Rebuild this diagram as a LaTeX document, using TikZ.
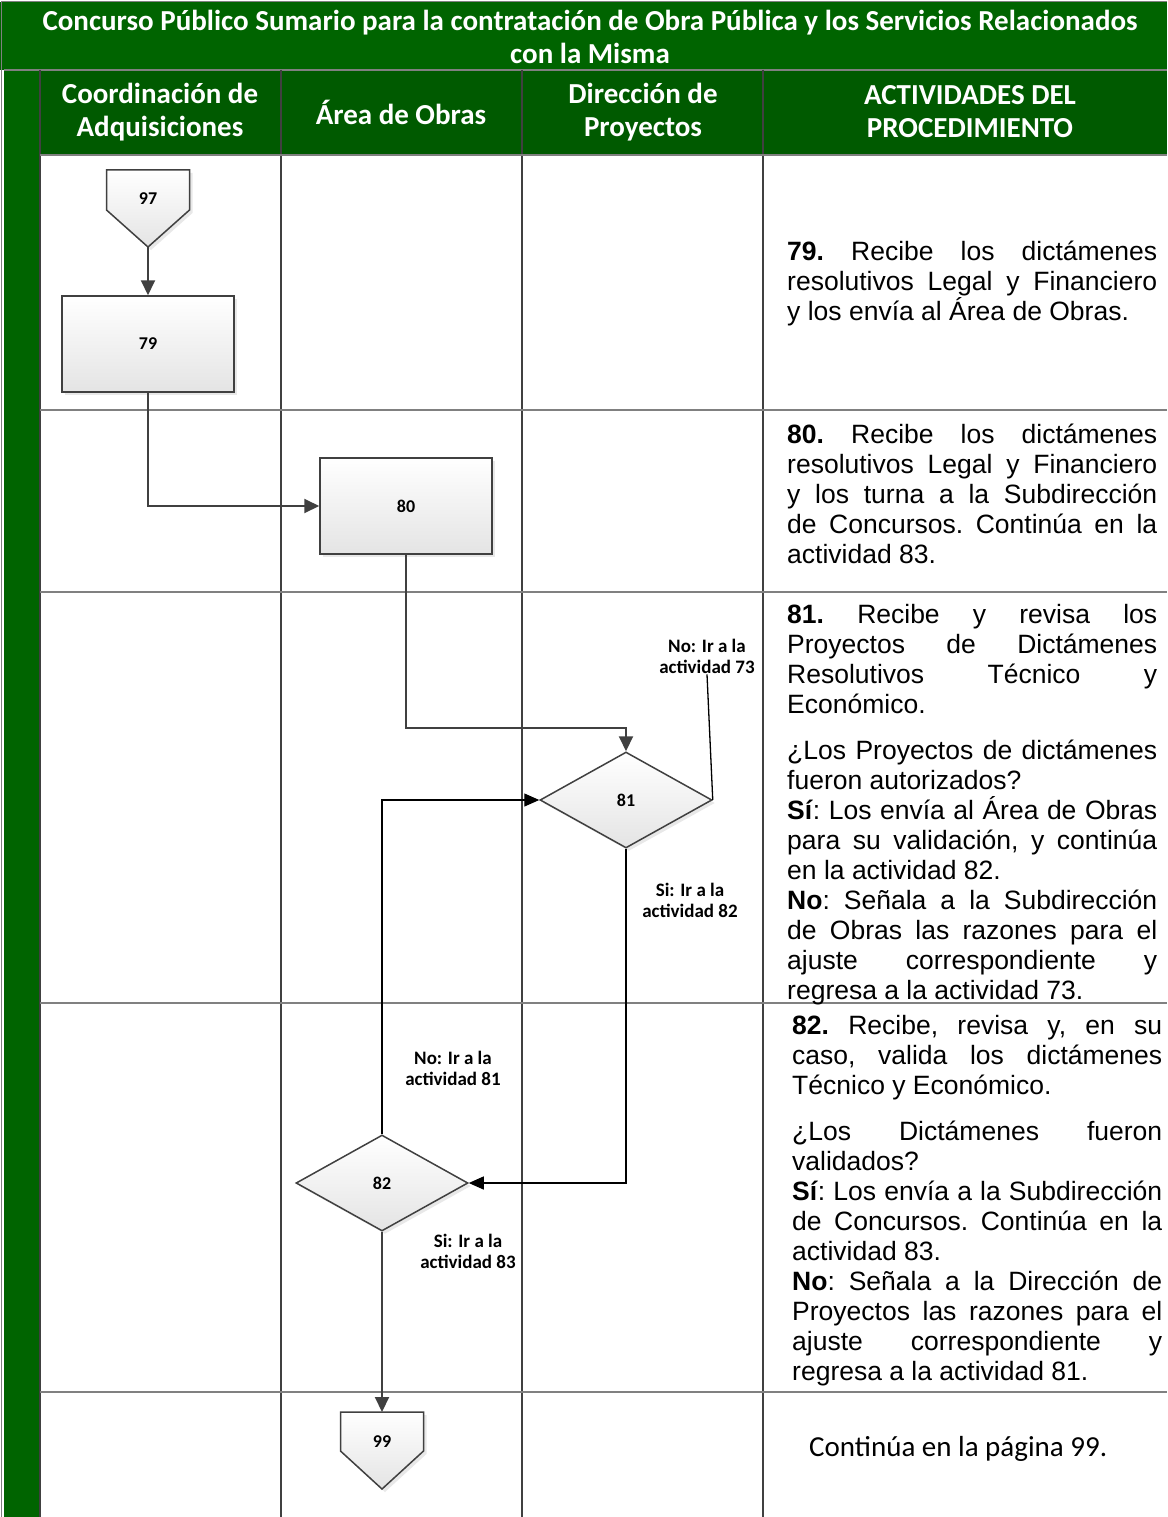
\documentclass[tikz,border=0pt]{standalone}
\usepackage{fontspec}
\setmainfont{Carlito}
\newfontfamily\arialfont{Liberation Sans}
\usetikzlibrary{positioning,calc,shapes.geometric,shadows,arrows.meta}
\definecolor{Lane}{HTML}{006400}
\definecolor{LaneDark}{HTML}{005A00}
\definecolor{Rule}{HTML}{404040}
\definecolor{RowRule}{HTML}{808080}
\definecolor{ShapeGrey}{HTML}{E4E4E4}
\definecolor{Edge}{HTML}{404040}

\tikzset{
	shapeline/.style={draw=Edge, line width=1.5pt, top color=white, bottom color=ShapeGrey, drop shadow={opacity=0.18, shadow xshift=3pt, shadow yshift=-3pt}},
	number/.style={font=\fontsize{18}{21}\selectfont\bfseries, inner sep=0pt},
	procbox/.style={shapeline, minimum width=172pt, minimum height=96pt, number},
	decision/.style={shapeline, diamond, aspect=1.8, minimum width=172pt, minimum height=96pt, number},
	flow/.style={draw=Edge, line width=2pt, -{Triangle[length=15pt,width=14pt]}},
	loop/.style={draw=black, line width=1.3pt, -{Triangle[length=15pt,width=13pt]}},
	branch/.style={font=\fontsize{19}{21}\selectfont\bfseries, align=center, inner sep=1pt},
	headtext/.style={text=white, font=\fontsize{29}{33}\selectfont\bfseries, align=center},
	activity/.style={anchor=base west, inner sep=0pt, text width=370pt, align=justify, font=\arialfont\fontsize{26.5}{30}\selectfont, execute at begin node={\frenchspacing\tolerance=9999 \hyphenpenalty=10000 \emergencystretch=3em\relax}},
	lane line/.style={draw=Rule, line width=2pt},
	row line/.style={draw=RowRule, line width=1.5pt}
}

\begin{document}
\begin{tikzpicture}[x=1pt,y=-1pt]
	\useasboundingbox (0,0) rectangle (1167,1517);
	\fill[Lane] (0,2) rectangle (1167,70);
	\fill[Lane] (4,70) rectangle (40,1517);
	\fill[LaneDark] (40,70) rectangle (1167,155);
	\draw[RowRule, line width=1pt] (1,1517) -- (1,2) -- (1167,2);
	\draw[row line] (4,70) -- (1167,70);
	\foreach \x in {40,281,522,763}
		\draw[lane line] (\x,70) -- (\x,1517);
	\foreach \y in {155,410,592,1003,1392}
		\draw[row line] (40,\y) -- (1167,\y);
	
	\node[headtext] (title) at (590,37) {Concurso Público Sumario para la contratación de Obra Pública y los Servicios Relacionados\\con la Misma};
	\node[headtext] (hcoord) at (160,112) {Coordinación de\\Adquisiciones};
	\node[headtext] (hobras) at (401,112) {Área de Obras};
	\node[headtext] (hdir) at (643,112) {Dirección de\\Proyectos};
	\node[headtext] (hact) at (970,112) {ACTIVIDADES DEL\\PROCEDIMIENTO};
	
	\coordinate (top97) at (148,170);
	\path[shapeline] (top97) ++(-41.5,0) -- ++(83,0) -- ++(0,40) -- ++(-41.5,37) coordinate (tip97) -- ++(-41.5,-37) -- cycle;
	\node[number] (c97) at ($(top97)+(0,29)$) {97};
	\node[procbox] (b79) at (148,344) {79};
	\node[procbox] (b80) at (406,506) {80};
	\node[decision] (d81) at (626,800) {81};
	\node[decision] (d82) at (382,1183) {82};
	\coordinate (top99) at (382,1412);
	\path[shapeline] (top99) ++(-41.5,0) -- ++(83,0) -- ++(0,39) -- ++(-41.5,38) -- ++(-41.5,-38) -- cycle;
	\node[number] (c99) at ($(top99)+(0,30)$) {99};
	
	\node[branch] (no73) at (707,656) {No: Ir a la\\actividad 73};
	\node[branch] (si82) at (690,900) {Si: Ir a la\\actividad 82};
	\node[branch] (no81) at (453,1068) {No: Ir a la\\actividad 81};
	\node[branch] (si83) at (468,1251) {Si: Ir a la\\actividad 83};
	
	\coordinate (k81) at (626,728);
	\draw[flow] (tip97) -- (b79.north);
	\draw[flow] (b79.south) |- (b80.west);
	\draw[flow] (b80.south) |- (k81) -- (d81.north);
	\draw[loop] (d81.south) |- (d82.east);
	\draw[loop] (d82.north) |- (d81.west);
	\draw[black, line width=1.3pt] (d81.east) -- (no73.south);
	\draw[flow] (d82.south) -- (top99);
	
	\node[activity] (a79) at (787,260) {\textbf{79.} Recibe los dictámenes\linebreak resolutivos Legal y Financiero\linebreak y los envía al Área de Obras.};
	\node[activity] (a80) at (787,443) {\textbf{80.} Recibe los dictámenes\linebreak resolutivos Legal y Financiero\linebreak y los turna a la Subdirección\linebreak de Concursos. Continúa en la\linebreak actividad 83.};
	\node[activity] (a81) at (787,623) {\textbf{81.} Recibe y revisa los\linebreak Proyectos de Dictámenes\linebreak Resolutivos Técnico y\linebreak Económico.\par\vspace{16pt}¿Los Proyectos de dictámenes\linebreak fueron autorizados?\par\textbf{Sí}: Los envía al Área de Obras\linebreak para su validación, y continúa\linebreak en la actividad 82.\par\textbf{No}: Señala a la Subdirección\linebreak de Obras las razones para el\linebreak ajuste correspondiente y\linebreak regresa a la actividad 73.};
	\node[activity] (a82) at (792,1034) {\textbf{82.} Recibe, revisa y, en su\linebreak caso, valida los dictámenes\linebreak Técnico y Económico.\par\vspace{16pt}¿Los Dictámenes fueron\linebreak validados?\par\textbf{Sí}: Los envía a la Subdirección\linebreak de Concursos. Continúa en la\linebreak actividad 83.\par\textbf{No}: Señala a la Dirección de\linebreak Proyectos las razones para el\linebreak ajuste correspondiente y\linebreak regresa a la actividad 81.};
	\node[anchor=base west, inner sep=0pt, font=\fontsize{29}{33}\selectfont] (cont) at (809,1456) {Continúa en la página 99.};
\end{tikzpicture}
\end{document}
